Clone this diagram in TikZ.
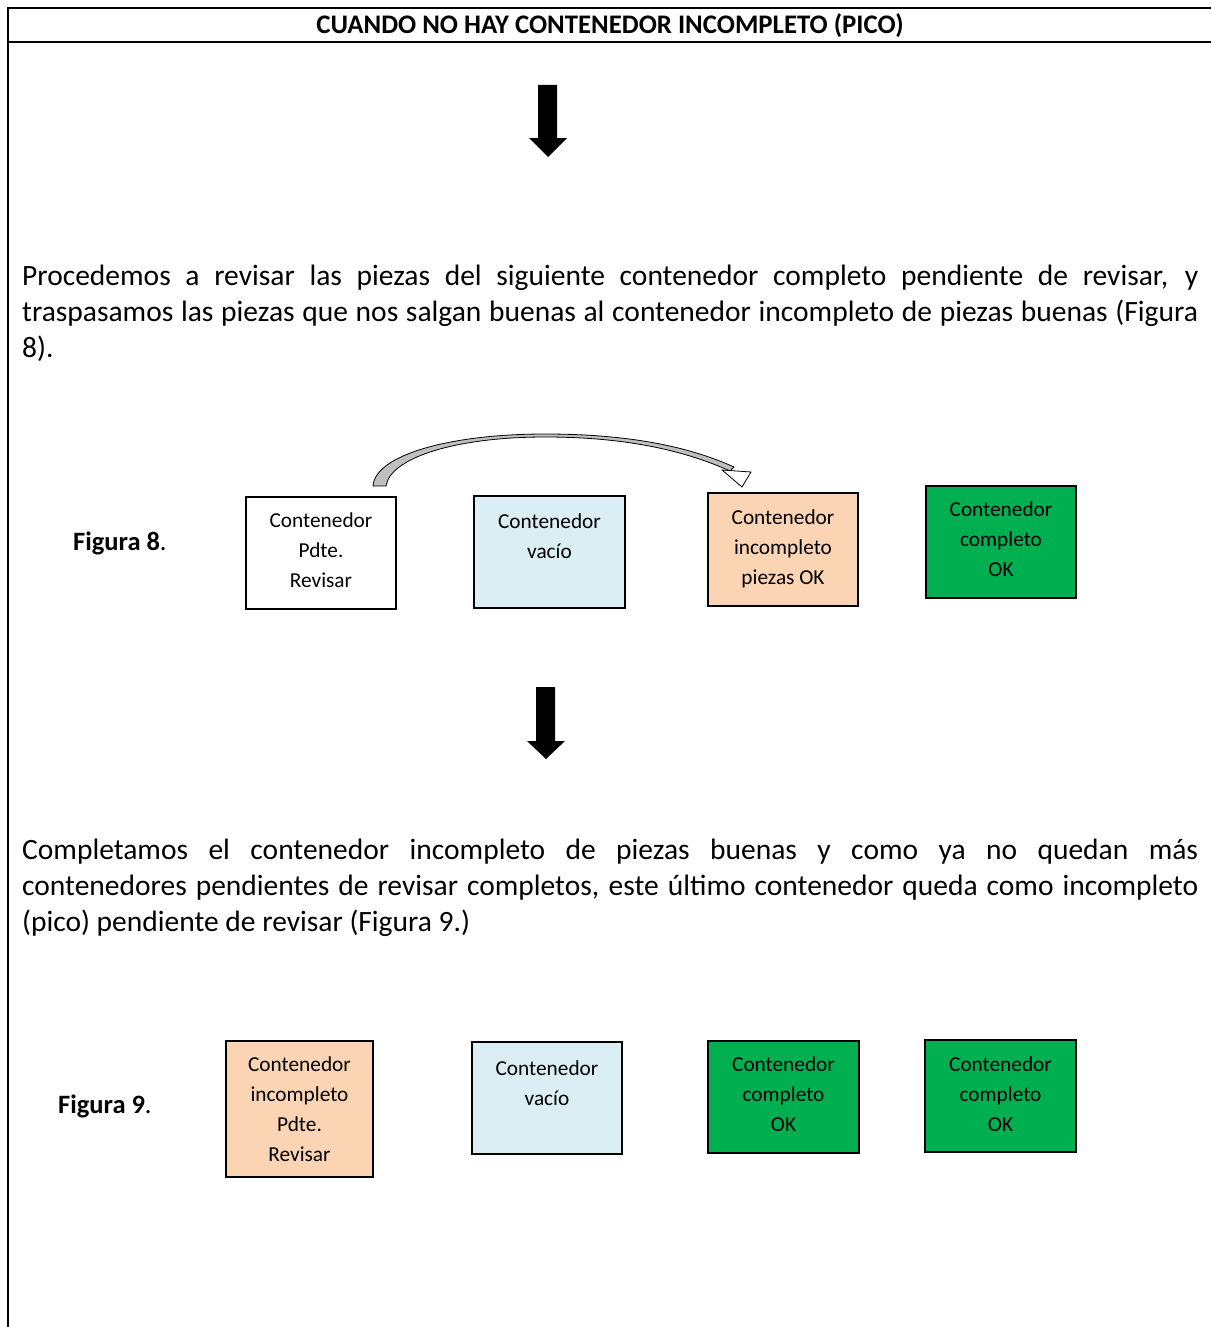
\documentclass[tikz,border=0pt]{standalone}
\usepackage{fontspec}
\setmainfont{Carlito}
\definecolor{paleblue}{HTML}{DAEEF3}
\definecolor{peach}{HTML}{FBD4B4}
\definecolor{okgreen}{HTML}{00B050}
\definecolor{bandgray}{HTML}{BFBFBF}
% justified paragraph of fixed width, no hyphenation, baseline at its first line
\newenvironment{bodypar}{\begin{minipage}[t]{1176pt}\hyphenpenalty=10000 \exhyphenpenalty=10000 }{\end{minipage}}
\begin{document}
\begin{tikzpicture}[x=1pt, y=-1pt,
  frame/.style={line width=1.8pt},
  box/.style={draw, line width=1.4pt, rectangle, inner sep=0pt},
  boxtext/.style={align=center, inner sep=0pt, anchor=base,
    font=\fontsize{21.3}{30}\selectfont},
  bodytext/.style={anchor=base west, inner sep=0pt,
    font=\fontsize{29.5}{36}\selectfont},
  figlabel/.style={anchor=base west, inner sep=0pt, font=\fontsize{26.5}{30}\selectfont},
  bigarrow/.style={fill=black}]
\useasboundingbox (0,0) rectangle (1211,1327);

% table frame and header
\draw[frame] (8,1327) -- (8,8) -- (1211,8);
\draw[frame] (8,42) -- (1211,42);
\node[anchor=base, inner sep=0pt, font=\fontsize{26.8}{30}\selectfont\bfseries] (title)
  at (610,34) {CUANDO NO HAY CONTENEDOR INCOMPLETO (PICO)};

% first downward arrow
\fill[bigarrow] (538,85) -- (557,85) -- (557,138) -- (567,138) -- (548,157)
  -- (529,138) -- (538,138) -- cycle;

% first paragraph (justified, fixed line breaks)
\node[bodytext] (para1) at (22,285) {\begin{bodypar}Procedemos a revisar las piezas del siguiente contenedor completo pendiente de revisar, y\linebreak traspasamos las piezas que nos salgan buenas al contenedor incompleto de piezas buenas (Figura\linebreak 8).\end{bodypar}};

% Figura 8 (multi-line labels are placed by the baseline of their last line)
\node[figlabel] (fig8) at (73,550) {\textbf{Figura 8}.};
\node[box, fill=white, minimum width=150pt, minimum height=112pt] (a1) at (321,553) {};
\node[box, fill=paleblue, minimum width=151pt, minimum height=112pt] (a2) at (549.5,552) {};
\node[box, fill=peach, minimum width=150pt, minimum height=113pt] (a3) at (783,549.5) {};
\node[box, fill=okgreen, minimum width=150pt, minimum height=112pt] (a4) at (1001,542) {};
\node[boxtext] (a1t) at ([yshift=-91pt]a1.north) {Contenedor\\Pdte.\\Revisar};
\node[boxtext] (a2t) at ([yshift=-63pt]a2.north) {Contenedor\\vacío};
\node[boxtext] (a3t) at ([yshift=-92pt]a3.north) {Contenedor\\incompleto\\piezas OK};
\node[boxtext] (a4t) at ([yshift=-91pt]a4.north) {Contenedor\\completo\\OK};

% curved block arrow from the pending box to the incomplete box
\coordinate (cstart) at (373,486);
\coordinate (ctip) at (742,487);
\filldraw[fill=bandgray, draw=black, line width=0.8pt]
  (cstart) .. controls (375,455) and (450,434) .. (545,434)
  .. controls (630,434) and (690,447) .. (734,467)
  -- (730,471)
  .. controls (688,452) and (630,437) .. (545,437)
  .. controls (455,437) and (390,458) .. (386,486) -- cycle;
\filldraw[fill=white, draw=black, line width=0.8pt, line join=miter]
  (722,470) -- (751,472) -- (ctip) -- cycle;

% second downward arrow
\fill[bigarrow] (536,687) -- (555,687) -- (555,741) -- (565,741) -- (546,759)
  -- (527,741) -- (536,741) -- cycle;

% second paragraph
\node[bodytext] (para2) at (22,859) {\begin{bodypar}Completamos el contenedor incompleto de piezas buenas y como ya no quedan más\linebreak contenedores pendientes de revisar completos, este último contenedor queda como incompleto\linebreak (pico) pendiente de revisar (Figura 9.)\end{bodypar}};

% Figura 9
\node[figlabel] (fig9) at (58,1113) {\textbf{Figura 9}.};
\node[box, fill=peach, minimum width=147pt, minimum height=136pt] (b1) at (299.5,1109) {};
\node[box, fill=paleblue, minimum width=150pt, minimum height=112pt] (b2) at (547,1098) {};
\node[box, fill=okgreen, minimum width=151pt, minimum height=112pt] (b3) at (783.5,1097) {};
\node[box, fill=okgreen, minimum width=151pt, minimum height=112pt] (b4) at (1000.5,1096) {};
\node[boxtext] (b1t) at ([yshift=-121pt]b1.north) {Contenedor\\incompleto\\Pdte.\\Revisar};
\node[boxtext] (b2t) at ([yshift=-64pt]b2.north) {Contenedor\\vacío};
\node[boxtext] (b3t) at ([yshift=-91pt]b3.north) {Contenedor\\completo\\OK};
\node[boxtext] (b4t) at ([yshift=-92pt]b4.north) {Contenedor\\completo\\OK};
\end{tikzpicture}
\end{document}
